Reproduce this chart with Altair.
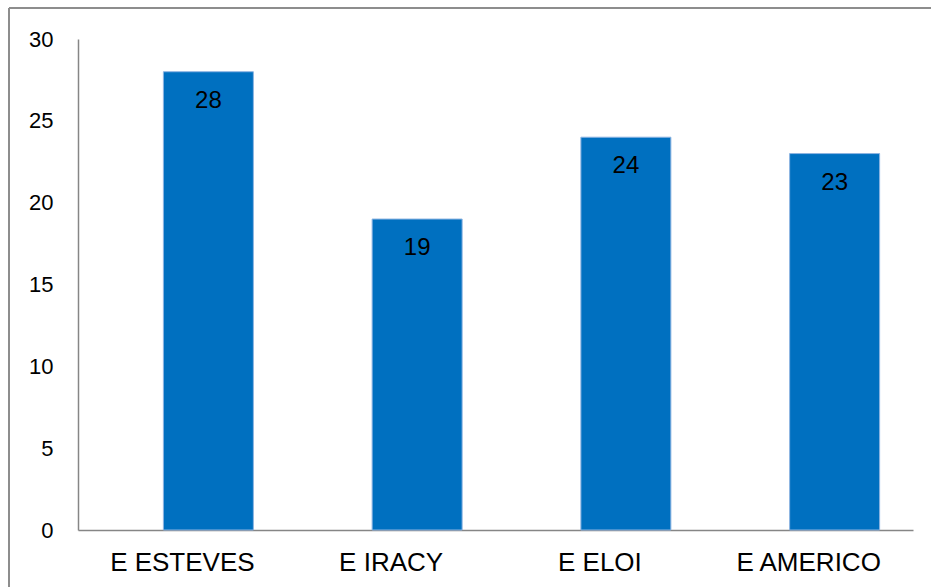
import altair as alt
import pandas as pd

schools = ["E ESTEVES", "E IRACY", "E ELOI", "E AMERICO"]
counts = [28, 19, 24, 23]

df = pd.DataFrame({"escola": schools, "valor": counts})

W, H = 835, 491
FONT = "Liberation Sans"

base = alt.Chart(df)

x = alt.X("escola:N", sort=schools, title=None,
          scale=alt.Scale(paddingInner=0, paddingOuter=0),
          axis=alt.Axis(labelAngle=0, labelFontSize=26, labelColor="#000000",
                        labelFont=FONT, ticks=False, tickSize=0, labelPadding=40,
                        labelBaseline="alphabetic", domainColor="#868686",
                        domainWidth=1.5, grid=False))
y = alt.Y("valor:Q", title=None,
          scale=alt.Scale(domain=[0, 30], nice=False),
          axis=alt.Axis(values=[0, 5, 10, 15, 20, 25, 30], labelFontSize=22,
                        labelColor="#000000", labelFont=FONT, ticks=False, tickSize=0,
                        labelPadding=25, domainColor="#868686", domainWidth=1.5,
                        grid=False))

bars = base.mark_bar(width=90, xOffset=26, fill="#0070C0", stroke="#8DB4E2",
                     strokeWidth=1).encode(x=x, y=y)

labels = base.mark_text(xOffset=26, dy=36, baseline="alphabetic", fontSize=24,
                        font=FONT, color="#000000").encode(
    x=alt.X("escola:N", sort=schools), y="valor:Q", text="valor:Q")

frame_left = base.mark_rule(color="#8c8c8c", strokeWidth=1.5).encode(
    x=alt.value(-69), y=alt.value(-31), y2=alt.value(560))
frame_top = base.mark_rule(color="#8c8c8c", strokeWidth=1.5).encode(
    x=alt.value(-69), x2=alt.value(860), y=alt.value(-31))

chart = alt.layer(bars, labels, frame_left, frame_top).properties(
    width=W, height=H,
    autosize=alt.AutoSizeParams(type="none"),
    padding={"left": 78, "top": 39, "right": 18, "bottom": 57},
    background="#ffffff",
).configure_view(stroke=None)

chart.save("out.html", embed_options={"renderer": "svg", "actions": False})
